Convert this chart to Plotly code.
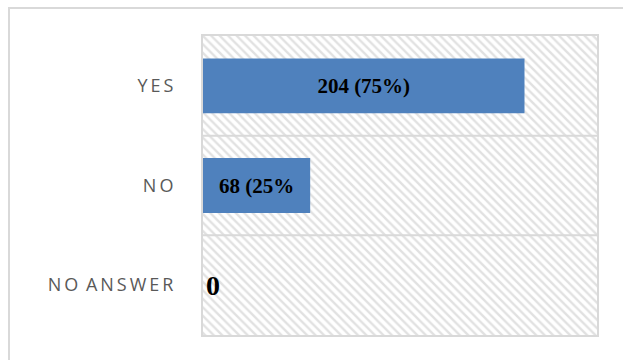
import plotly.graph_objects as go

categories = ["YES", "NO", "NO ANSWER"]
tick_labels = ["Y\u2009E\u2009S", "N\u2009O", "N\u2009O \u2009A\u2009N\u2009S\u2009W\u2009E\u2009R"]
values = [204, 68, 0]
bar_labels = ["204 (75%)", "68 (25%", "0"]
axis_max = 250

W, H = 623, 360
L, R, T, B = 203, 26, 36, 25
pw, ph = W - L - R, H - T - B

fig = go.Figure()

# hatched background bands
fig.add_trace(go.Bar(
    y=categories, x=[axis_max] * len(categories), orientation="h",
    width=1, marker=dict(color="white", line=dict(width=0),
                         pattern=dict(shape="\\", fgcolor="#c4c4c4", bgcolor="white",
                                      size=6, solidity=0.4)),
    hoverinfo="skip", showlegend=False,
))

fig.add_trace(go.Bar(
    y=categories, x=values, orientation="h", width=0.55,
    marker=dict(color="#4f81bd", line=dict(width=0)),
    text=bar_labels,
    textposition=["inside", "inside", "outside"],
    insidetextanchor="middle",
    insidetextfont=dict(family="Liberation Serif", size=21, color="black", weight="bold"),
    outsidetextfont=dict(family="Liberation Serif", size=28, color="black", weight="bold"),
    constraintext="none", cliponaxis=False, showlegend=False,
))

fig.update_layout(
    width=W, height=H, barmode="overlay",
    margin=dict(l=L, r=R, t=T, b=B),
    paper_bgcolor="white", plot_bgcolor="white",
    xaxis=dict(range=[0, axis_max], showticklabels=False, showgrid=False,
               zeroline=False, showline=True, mirror=True, linecolor="#d9d9d9", linewidth=2),
    yaxis=dict(categoryorder="array", categoryarray=categories, autorange="reversed",
               tickvals=categories, ticktext=tick_labels, ticks="", ticklen=0,
               showgrid=False, zeroline=False, showline=True, mirror=True,
               linecolor="#d9d9d9", linewidth=2,
               tickfont=dict(family="Open Sans", size=18, color="#595959"),
               ticklabelstandoff=24),
)

# category separators
for b in [0.5, 1.5]:
    fig.add_shape(type="line", xref="paper", yref="y", x0=0, x1=1, y0=b, y1=b,
                  line=dict(color="#d9d9d9", width=2), layer="above")

# outer chart border (extends beyond the canvas on right and bottom)
fig.add_shape(type="rect", xref="paper", yref="paper",
              x0=(9 - L) / pw, x1=(W + 5 - L) / pw,
              y0=-(B + 5) / ph, y1=1 + (T - 8) / ph,
              line=dict(color="#d9d9d9", width=2), fillcolor="rgba(0,0,0,0)")

fig.write_html("out.html")
